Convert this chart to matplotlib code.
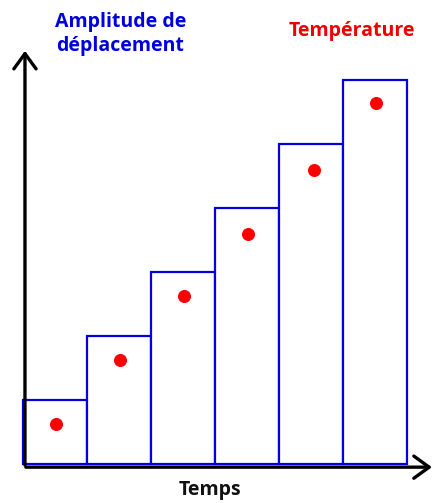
import matplotlib.pyplot as plt

# staircase of rising displacement amplitude with temperature dots
steps = [1, 2, 3, 4, 5, 6]
amplitude = [1, 2, 3, 4, 5, 6]
temperature = [0.63, 1.63, 2.63, 3.6, 4.6, 5.64]
dot_x = [0.52, 1.52, 2.52, 3.52, 4.55, 5.52]

fig = plt.figure(figsize=(4.36, 5.03), dpi=100)
ax = fig.add_axes([0, 0, 1, 1])
ax.set_xlim(-0.36, 6.45)
ax.set_ylim(-0.61, 7.25)
ax.axis('off')

left = [s - 1 for s in steps]
ax.bar(left, amplitude, width=1, align='edge', color='white',
       edgecolor='#0000dd', linewidth=1.6, zorder=2)
ax.scatter(dot_x, temperature, s=70, color='#ff0000', zorder=3)

# axes drawn as arrows
head = '->,head_length=1.1,head_width=0.8'
ax.annotate('', xy=(0.03, 6.5), xytext=(0.03, -0.06),
            arrowprops=dict(arrowstyle=head, color='black', lw=2.4),
            zorder=4)
ax.annotate('', xy=(6.43, -0.05), xytext=(0.0, -0.05),
            arrowprops=dict(arrowstyle=head, color='black', lw=2.4),
            zorder=4)

font = dict(fontsize=14, fontweight='bold', family='Open Sans',
            ha='center', va='center')
ax.text(1.52, 6.72, 'Amplitude de\ndéplacement', color='#0000dd',
        linespacing=1.22, **font)
ax.text(5.14, 6.77, 'Température', color='#ee0000', **font)
ax.text(2.92, -0.41, 'Temps', color='#111111', **font)

fig.savefig('out.png', dpi=100)
